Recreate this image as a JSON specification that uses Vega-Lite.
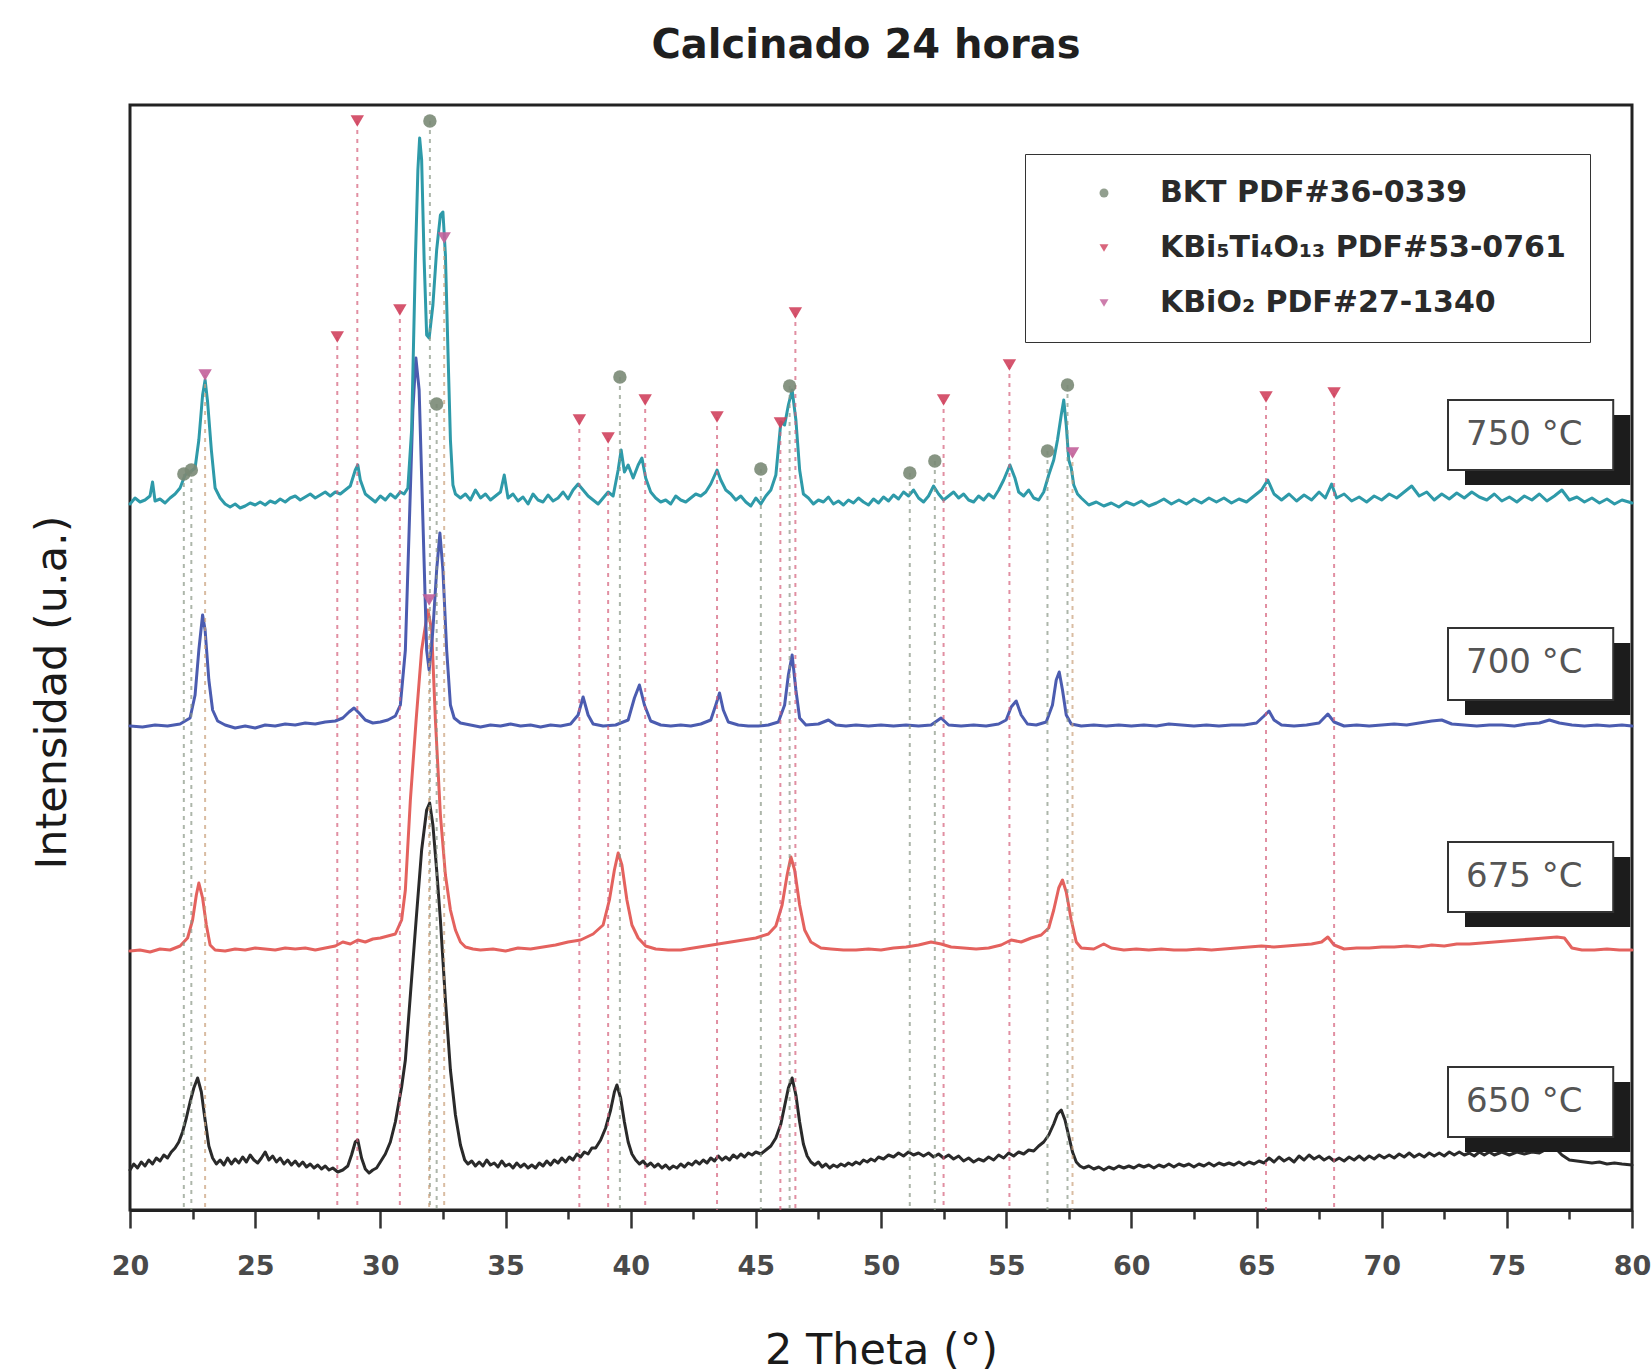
{
  "$schema": "https://vega.github.io/schema/vega-lite/v6.json",
  "width": 1502,
  "height": 1105,
  "autosize": {"type": "none"},
  "padding": {"left": 130, "top": 105, "right": 19, "bottom": 162},
  "background": "white",
  "title": {
    "text": "Calcinado 24 horas",
    "font": "DejaVu Sans",
    "fontSize": 40,
    "fontWeight": "bold",
    "color": "#1f1f1f",
    "anchor": "middle",
    "baseline": "alphabetic",
    "offset": 7,
    "dx": -15
  },
  "config": {
    "font": "DejaVu Sans",
    "view": {"stroke": "#222222", "strokeWidth": 3}
  },
  "datasets": {
    "patrones": [
      {"muestra":"650 °C","theta":20.0,"int":40},{"muestra":"650 °C","theta":20.15,"int":46},{"muestra":"650 °C","theta":20.3,"int":42},{"muestra":"650 °C","theta":20.45,"int":48},{"muestra":"650 °C","theta":20.6,"int":44},{"muestra":"650 °C","theta":20.75,"int":50},{"muestra":"650 °C","theta":20.9,"int":46},{"muestra":"650 °C","theta":21.05,"int":52},{"muestra":"650 °C","theta":21.2,"int":49},{"muestra":"650 °C","theta":21.35,"int":55},{"muestra":"650 °C","theta":21.5,"int":52},{"muestra":"650 °C","theta":21.65,"int":58},{"muestra":"650 °C","theta":21.8,"int":62},{"muestra":"650 °C","theta":21.95,"int":68},{"muestra":"650 °C","theta":22.1,"int":78},{"muestra":"650 °C","theta":22.25,"int":92},{"muestra":"650 °C","theta":22.4,"int":108},{"muestra":"650 °C","theta":22.55,"int":122},{"muestra":"650 °C","theta":22.7,"int":132},{"muestra":"650 °C","theta":22.85,"int":118},{"muestra":"650 °C","theta":23.0,"int":90},{"muestra":"650 °C","theta":23.15,"int":64},{"muestra":"650 °C","theta":23.3,"int":52},{"muestra":"650 °C","theta":23.45,"int":46},{"muestra":"650 °C","theta":23.6,"int":50},{"muestra":"650 °C","theta":23.75,"int":45},{"muestra":"650 °C","theta":23.9,"int":52},{"muestra":"650 °C","theta":24.05,"int":46},{"muestra":"650 °C","theta":24.2,"int":51},{"muestra":"650 °C","theta":24.35,"int":47},{"muestra":"650 °C","theta":24.5,"int":53},{"muestra":"650 °C","theta":24.65,"int":48},{"muestra":"650 °C","theta":24.8,"int":55},{"muestra":"650 °C","theta":24.95,"int":50},{"muestra":"650 °C","theta":25.1,"int":47},{"muestra":"650 °C","theta":25.25,"int":52},{"muestra":"650 °C","theta":25.4,"int":58},{"muestra":"650 °C","theta":25.55,"int":50},{"muestra":"650 °C","theta":25.7,"int":54},{"muestra":"650 °C","theta":25.85,"int":48},{"muestra":"650 °C","theta":26.0,"int":52},{"muestra":"650 °C","theta":26.15,"int":46},{"muestra":"650 °C","theta":26.3,"int":50},{"muestra":"650 °C","theta":26.45,"int":45},{"muestra":"650 °C","theta":26.6,"int":49},{"muestra":"650 °C","theta":26.75,"int":44},{"muestra":"650 °C","theta":26.9,"int":48},{"muestra":"650 °C","theta":27.05,"int":43},{"muestra":"650 °C","theta":27.2,"int":46},{"muestra":"650 °C","theta":27.35,"int":42},{"muestra":"650 °C","theta":27.5,"int":45},{"muestra":"650 °C","theta":27.65,"int":41},{"muestra":"650 °C","theta":27.8,"int":44},{"muestra":"650 °C","theta":27.95,"int":40},{"muestra":"650 °C","theta":28.1,"int":42},{"muestra":"650 °C","theta":28.3,"int":38},{"muestra":"650 °C","theta":28.5,"int":40},{"muestra":"650 °C","theta":28.7,"int":44},{"muestra":"650 °C","theta":28.85,"int":55},{"muestra":"650 °C","theta":29.0,"int":68},{"muestra":"650 °C","theta":29.1,"int":70},{"muestra":"650 °C","theta":29.25,"int":52},{"muestra":"650 °C","theta":29.4,"int":41},{"muestra":"650 °C","theta":29.55,"int":37},{"muestra":"650 °C","theta":29.7,"int":40},{"muestra":"650 °C","theta":29.85,"int":42},{"muestra":"650 °C","theta":30.0,"int":48},{"muestra":"650 °C","theta":30.2,"int":56},{"muestra":"650 °C","theta":30.4,"int":68},{"muestra":"650 °C","theta":30.6,"int":88},{"muestra":"650 °C","theta":30.85,"int":123},{"muestra":"650 °C","theta":31.0,"int":150},{"muestra":"650 °C","theta":31.2,"int":215},{"muestra":"650 °C","theta":31.43,"int":290},{"muestra":"650 °C","theta":31.65,"int":360},{"muestra":"650 °C","theta":31.85,"int":400},{"muestra":"650 °C","theta":31.97,"int":407},{"muestra":"650 °C","theta":32.1,"int":385},{"muestra":"650 °C","theta":32.25,"int":340},{"muestra":"650 °C","theta":32.4,"int":290},{"muestra":"650 °C","theta":32.6,"int":210},{"muestra":"650 °C","theta":32.8,"int":140},{"muestra":"650 °C","theta":33.0,"int":95},{"muestra":"650 °C","theta":33.2,"int":65},{"muestra":"650 °C","theta":33.37,"int":50},{"muestra":"650 °C","theta":33.5,"int":46},{"muestra":"650 °C","theta":33.65,"int":49},{"muestra":"650 °C","theta":33.8,"int":44},{"muestra":"650 °C","theta":33.95,"int":48},{"muestra":"650 °C","theta":34.1,"int":44},{"muestra":"650 °C","theta":34.25,"int":50},{"muestra":"650 °C","theta":34.4,"int":45},{"muestra":"650 °C","theta":34.55,"int":47},{"muestra":"650 °C","theta":34.7,"int":43},{"muestra":"650 °C","theta":34.85,"int":49},{"muestra":"650 °C","theta":35.0,"int":44},{"muestra":"650 °C","theta":35.15,"int":46},{"muestra":"650 °C","theta":35.3,"int":42},{"muestra":"650 °C","theta":35.45,"int":47},{"muestra":"650 °C","theta":35.6,"int":43},{"muestra":"650 °C","theta":35.75,"int":46},{"muestra":"650 °C","theta":35.9,"int":42},{"muestra":"650 °C","theta":36.05,"int":45},{"muestra":"650 °C","theta":36.2,"int":42},{"muestra":"650 °C","theta":36.35,"int":47},{"muestra":"650 °C","theta":36.5,"int":44},{"muestra":"650 °C","theta":36.65,"int":49},{"muestra":"650 °C","theta":36.8,"int":45},{"muestra":"650 °C","theta":36.95,"int":50},{"muestra":"650 °C","theta":37.1,"int":47},{"muestra":"650 °C","theta":37.25,"int":52},{"muestra":"650 °C","theta":37.4,"int":48},{"muestra":"650 °C","theta":37.55,"int":53},{"muestra":"650 °C","theta":37.7,"int":50},{"muestra":"650 °C","theta":37.85,"int":56},{"muestra":"650 °C","theta":38.0,"int":53},{"muestra":"650 °C","theta":38.15,"int":58},{"muestra":"650 °C","theta":38.3,"int":56},{"muestra":"650 °C","theta":38.45,"int":62},{"muestra":"650 °C","theta":38.6,"int":62},{"muestra":"650 °C","theta":38.8,"int":70},{"muestra":"650 °C","theta":39.0,"int":82},{"muestra":"650 °C","theta":39.2,"int":100},{"muestra":"650 °C","theta":39.35,"int":118},{"muestra":"650 °C","theta":39.45,"int":125},{"muestra":"650 °C","theta":39.6,"int":112},{"muestra":"650 °C","theta":39.75,"int":88},{"muestra":"650 °C","theta":39.9,"int":68},{"muestra":"650 °C","theta":40.05,"int":56},{"muestra":"650 °C","theta":40.2,"int":50},{"muestra":"650 °C","theta":40.35,"int":46},{"muestra":"650 °C","theta":40.5,"int":49},{"muestra":"650 °C","theta":40.65,"int":44},{"muestra":"650 °C","theta":40.8,"int":47},{"muestra":"650 °C","theta":40.95,"int":43},{"muestra":"650 °C","theta":41.1,"int":46},{"muestra":"650 °C","theta":41.25,"int":42},{"muestra":"650 °C","theta":41.4,"int":45},{"muestra":"650 °C","theta":41.55,"int":41},{"muestra":"650 °C","theta":41.7,"int":44},{"muestra":"650 °C","theta":41.85,"int":42},{"muestra":"650 °C","theta":42.0,"int":46},{"muestra":"650 °C","theta":42.15,"int":43},{"muestra":"650 °C","theta":42.3,"int":47},{"muestra":"650 °C","theta":42.45,"int":45},{"muestra":"650 °C","theta":42.6,"int":49},{"muestra":"650 °C","theta":42.75,"int":46},{"muestra":"650 °C","theta":42.9,"int":50},{"muestra":"650 °C","theta":43.05,"int":47},{"muestra":"650 °C","theta":43.2,"int":52},{"muestra":"650 °C","theta":43.35,"int":49},{"muestra":"650 °C","theta":43.5,"int":54},{"muestra":"650 °C","theta":43.65,"int":50},{"muestra":"650 °C","theta":43.8,"int":53},{"muestra":"650 °C","theta":43.95,"int":50},{"muestra":"650 °C","theta":44.1,"int":55},{"muestra":"650 °C","theta":44.25,"int":52},{"muestra":"650 °C","theta":44.4,"int":56},{"muestra":"650 °C","theta":44.55,"int":53},{"muestra":"650 °C","theta":44.7,"int":57},{"muestra":"650 °C","theta":44.85,"int":55},{"muestra":"650 °C","theta":45.0,"int":58},{"muestra":"650 °C","theta":45.2,"int":56},{"muestra":"650 °C","theta":45.4,"int":60},{"muestra":"650 °C","theta":45.6,"int":64},{"muestra":"650 °C","theta":45.8,"int":72},{"muestra":"650 °C","theta":46.0,"int":86},{"muestra":"650 °C","theta":46.15,"int":104},{"muestra":"650 °C","theta":46.3,"int":122},{"muestra":"650 °C","theta":46.45,"int":132},{"muestra":"650 °C","theta":46.6,"int":115},{"muestra":"650 °C","theta":46.75,"int":88},{"muestra":"650 °C","theta":46.9,"int":66},{"muestra":"650 °C","theta":47.05,"int":54},{"muestra":"650 °C","theta":47.2,"int":48},{"muestra":"650 °C","theta":47.35,"int":45},{"muestra":"650 °C","theta":47.5,"int":48},{"muestra":"650 °C","theta":47.65,"int":43},{"muestra":"650 °C","theta":47.8,"int":46},{"muestra":"650 °C","theta":47.95,"int":42},{"muestra":"650 °C","theta":48.1,"int":45},{"muestra":"650 °C","theta":48.25,"int":43},{"muestra":"650 °C","theta":48.4,"int":46},{"muestra":"650 °C","theta":48.55,"int":44},{"muestra":"650 °C","theta":48.7,"int":47},{"muestra":"650 °C","theta":48.85,"int":45},{"muestra":"650 °C","theta":49.0,"int":48},{"muestra":"650 °C","theta":49.15,"int":46},{"muestra":"650 °C","theta":49.3,"int":50},{"muestra":"650 °C","theta":49.45,"int":48},{"muestra":"650 °C","theta":49.6,"int":51},{"muestra":"650 °C","theta":49.75,"int":49},{"muestra":"650 °C","theta":49.9,"int":53},{"muestra":"650 °C","theta":50.1,"int":51},{"muestra":"650 °C","theta":50.3,"int":55},{"muestra":"650 °C","theta":50.5,"int":53},{"muestra":"650 °C","theta":50.7,"int":57},{"muestra":"650 °C","theta":50.9,"int":54},{"muestra":"650 °C","theta":51.1,"int":58},{"muestra":"650 °C","theta":51.3,"int":55},{"muestra":"650 °C","theta":51.5,"int":57},{"muestra":"650 °C","theta":51.7,"int":54},{"muestra":"650 °C","theta":51.9,"int":57},{"muestra":"650 °C","theta":52.1,"int":53},{"muestra":"650 °C","theta":52.3,"int":56},{"muestra":"650 °C","theta":52.5,"int":52},{"muestra":"650 °C","theta":52.7,"int":55},{"muestra":"650 °C","theta":52.9,"int":51},{"muestra":"650 °C","theta":53.1,"int":54},{"muestra":"650 °C","theta":53.3,"int":49},{"muestra":"650 °C","theta":53.5,"int":52},{"muestra":"650 °C","theta":53.7,"int":48},{"muestra":"650 °C","theta":53.9,"int":51},{"muestra":"650 °C","theta":54.1,"int":49},{"muestra":"650 °C","theta":54.3,"int":53},{"muestra":"650 °C","theta":54.5,"int":50},{"muestra":"650 °C","theta":54.7,"int":55},{"muestra":"650 °C","theta":54.9,"int":52},{"muestra":"650 °C","theta":55.1,"int":57},{"muestra":"650 °C","theta":55.3,"int":54},{"muestra":"650 °C","theta":55.5,"int":58},{"muestra":"650 °C","theta":55.7,"int":56},{"muestra":"650 °C","theta":55.9,"int":60},{"muestra":"650 °C","theta":56.1,"int":59},{"muestra":"650 °C","theta":56.3,"int":64},{"muestra":"650 °C","theta":56.5,"int":68},{"muestra":"650 °C","theta":56.7,"int":75},{"muestra":"650 °C","theta":56.9,"int":86},{"muestra":"650 °C","theta":57.05,"int":96},{"muestra":"650 °C","theta":57.2,"int":100},{"muestra":"650 °C","theta":57.35,"int":90},{"muestra":"650 °C","theta":57.5,"int":74},{"muestra":"650 °C","theta":57.65,"int":58},{"muestra":"650 °C","theta":57.8,"int":48},{"muestra":"650 °C","theta":57.95,"int":44},{"muestra":"650 °C","theta":58.1,"int":42},{"muestra":"650 °C","theta":58.3,"int":44},{"muestra":"650 °C","theta":58.5,"int":41},{"muestra":"650 °C","theta":58.7,"int":43},{"muestra":"650 °C","theta":58.9,"int":40},{"muestra":"650 °C","theta":59.1,"int":43},{"muestra":"650 °C","theta":59.3,"int":41},{"muestra":"650 °C","theta":59.5,"int":44},{"muestra":"650 °C","theta":59.7,"int":42},{"muestra":"650 °C","theta":59.9,"int":44},{"muestra":"650 °C","theta":60.1,"int":42},{"muestra":"650 °C","theta":60.3,"int":45},{"muestra":"650 °C","theta":60.5,"int":43},{"muestra":"650 °C","theta":60.7,"int":45},{"muestra":"650 °C","theta":60.9,"int":42},{"muestra":"650 °C","theta":61.1,"int":45},{"muestra":"650 °C","theta":61.3,"int":43},{"muestra":"650 °C","theta":61.5,"int":46},{"muestra":"650 °C","theta":61.7,"int":43},{"muestra":"650 °C","theta":61.9,"int":46},{"muestra":"650 °C","theta":62.1,"int":44},{"muestra":"650 °C","theta":62.3,"int":46},{"muestra":"650 °C","theta":62.5,"int":43},{"muestra":"650 °C","theta":62.7,"int":46},{"muestra":"650 °C","theta":62.9,"int":44},{"muestra":"650 °C","theta":63.1,"int":47},{"muestra":"650 °C","theta":63.3,"int":44},{"muestra":"650 °C","theta":63.5,"int":47},{"muestra":"650 °C","theta":63.7,"int":45},{"muestra":"650 °C","theta":63.9,"int":47},{"muestra":"650 °C","theta":64.1,"int":45},{"muestra":"650 °C","theta":64.3,"int":48},{"muestra":"650 °C","theta":64.5,"int":45},{"muestra":"650 °C","theta":64.7,"int":48},{"muestra":"650 °C","theta":64.9,"int":46},{"muestra":"650 °C","theta":65.1,"int":49},{"muestra":"650 °C","theta":65.3,"int":47},{"muestra":"650 °C","theta":65.5,"int":52},{"muestra":"650 °C","theta":65.7,"int":48},{"muestra":"650 °C","theta":65.9,"int":53},{"muestra":"650 °C","theta":66.1,"int":49},{"muestra":"650 °C","theta":66.3,"int":52},{"muestra":"650 °C","theta":66.5,"int":48},{"muestra":"650 °C","theta":66.7,"int":54},{"muestra":"650 °C","theta":66.9,"int":50},{"muestra":"650 °C","theta":67.1,"int":55},{"muestra":"650 °C","theta":67.3,"int":51},{"muestra":"650 °C","theta":67.5,"int":54},{"muestra":"650 °C","theta":67.7,"int":50},{"muestra":"650 °C","theta":67.9,"int":53},{"muestra":"650 °C","theta":68.1,"int":49},{"muestra":"650 °C","theta":68.3,"int":52},{"muestra":"650 °C","theta":68.5,"int":49},{"muestra":"650 °C","theta":68.7,"int":53},{"muestra":"650 °C","theta":68.9,"int":50},{"muestra":"650 °C","theta":69.1,"int":54},{"muestra":"650 °C","theta":69.3,"int":50},{"muestra":"650 °C","theta":69.5,"int":54},{"muestra":"650 °C","theta":69.7,"int":51},{"muestra":"650 °C","theta":69.9,"int":55},{"muestra":"650 °C","theta":70.1,"int":52},{"muestra":"650 °C","theta":70.3,"int":55},{"muestra":"650 °C","theta":70.5,"int":52},{"muestra":"650 °C","theta":70.7,"int":56},{"muestra":"650 °C","theta":70.9,"int":53},{"muestra":"650 °C","theta":71.1,"int":57},{"muestra":"650 °C","theta":71.3,"int":53},{"muestra":"650 °C","theta":71.5,"int":56},{"muestra":"650 °C","theta":71.7,"int":53},{"muestra":"650 °C","theta":71.9,"int":57},{"muestra":"650 °C","theta":72.1,"int":54},{"muestra":"650 °C","theta":72.3,"int":57},{"muestra":"650 °C","theta":72.5,"int":54},{"muestra":"650 °C","theta":72.7,"int":58},{"muestra":"650 °C","theta":72.9,"int":55},{"muestra":"650 °C","theta":73.1,"int":58},{"muestra":"650 °C","theta":73.3,"int":55},{"muestra":"650 °C","theta":73.5,"int":57},{"muestra":"650 °C","theta":73.7,"int":54},{"muestra":"650 °C","theta":73.9,"int":58},{"muestra":"650 °C","theta":74.1,"int":55},{"muestra":"650 °C","theta":74.3,"int":58},{"muestra":"650 °C","theta":74.5,"int":55},{"muestra":"650 °C","theta":74.8,"int":58},{"muestra":"650 °C","theta":75.1,"int":55},{"muestra":"650 °C","theta":75.4,"int":58},{"muestra":"650 °C","theta":75.7,"int":56},{"muestra":"650 °C","theta":76.0,"int":58},{"muestra":"650 °C","theta":76.3,"int":57},{"muestra":"650 °C","theta":76.6,"int":61},{"muestra":"650 °C","theta":76.9,"int":63},{"muestra":"650 °C","theta":77.2,"int":55},{"muestra":"650 °C","theta":77.5,"int":50},{"muestra":"650 °C","theta":77.8,"int":49},{"muestra":"650 °C","theta":78.1,"int":48},{"muestra":"650 °C","theta":78.4,"int":47},{"muestra":"650 °C","theta":78.7,"int":48},{"muestra":"650 °C","theta":79.0,"int":46},{"muestra":"650 °C","theta":79.3,"int":47},{"muestra":"650 °C","theta":79.6,"int":46},{"muestra":"650 °C","theta":80.0,"int":45},
      {"muestra":"675 °C","theta":20.0,"int":259},{"muestra":"675 °C","theta":20.4,"int":260},{"muestra":"675 °C","theta":20.8,"int":258},{"muestra":"675 °C","theta":21.2,"int":261},{"muestra":"675 °C","theta":21.6,"int":260},{"muestra":"675 °C","theta":22.0,"int":264},{"muestra":"675 °C","theta":22.3,"int":272},{"muestra":"675 °C","theta":22.5,"int":290},{"muestra":"675 °C","theta":22.65,"int":315},{"muestra":"675 °C","theta":22.75,"int":327},{"muestra":"675 °C","theta":22.9,"int":312},{"muestra":"675 °C","theta":23.05,"int":285},{"muestra":"675 °C","theta":23.2,"int":265},{"muestra":"675 °C","theta":23.4,"int":260},{"muestra":"675 °C","theta":23.8,"int":259},{"muestra":"675 °C","theta":24.2,"int":261},{"muestra":"675 °C","theta":24.6,"int":260},{"muestra":"675 °C","theta":25.0,"int":262},{"muestra":"675 °C","theta":25.4,"int":261},{"muestra":"675 °C","theta":25.8,"int":260},{"muestra":"675 °C","theta":26.2,"int":262},{"muestra":"675 °C","theta":26.6,"int":261},{"muestra":"675 °C","theta":27.0,"int":262},{"muestra":"675 °C","theta":27.4,"int":260},{"muestra":"675 °C","theta":27.8,"int":262},{"muestra":"675 °C","theta":28.2,"int":264},{"muestra":"675 °C","theta":28.5,"int":268},{"muestra":"675 °C","theta":28.8,"int":266},{"muestra":"675 °C","theta":29.1,"int":270},{"muestra":"675 °C","theta":29.4,"int":268},{"muestra":"675 °C","theta":29.7,"int":271},{"muestra":"675 °C","theta":30.0,"int":272},{"muestra":"675 °C","theta":30.3,"int":274},{"muestra":"675 °C","theta":30.6,"int":276},{"muestra":"675 °C","theta":30.85,"int":290},{"muestra":"675 °C","theta":31.0,"int":320},{"muestra":"675 °C","theta":31.2,"int":410},{"muestra":"675 °C","theta":31.43,"int":490},{"muestra":"675 °C","theta":31.65,"int":560},{"muestra":"675 °C","theta":31.9,"int":600},{"muestra":"675 °C","theta":32.05,"int":580},{"muestra":"675 °C","theta":32.2,"int":490},{"muestra":"675 °C","theta":32.4,"int":395},{"muestra":"675 °C","theta":32.6,"int":335},{"muestra":"675 °C","theta":32.8,"int":300},{"muestra":"675 °C","theta":33.0,"int":280},{"muestra":"675 °C","theta":33.2,"int":268},{"muestra":"675 °C","theta":33.4,"int":263},{"muestra":"675 °C","theta":33.7,"int":261},{"muestra":"675 °C","theta":34.0,"int":260},{"muestra":"675 °C","theta":34.5,"int":261},{"muestra":"675 °C","theta":35.0,"int":259},{"muestra":"675 °C","theta":35.5,"int":262},{"muestra":"675 °C","theta":36.0,"int":261},{"muestra":"675 °C","theta":36.5,"int":263},{"muestra":"675 °C","theta":37.0,"int":265},{"muestra":"675 °C","theta":37.5,"int":268},{"muestra":"675 °C","theta":38.0,"int":270},{"muestra":"675 °C","theta":38.5,"int":276},{"muestra":"675 °C","theta":38.9,"int":285},{"muestra":"675 °C","theta":39.15,"int":310},{"muestra":"675 °C","theta":39.35,"int":340},{"muestra":"675 °C","theta":39.5,"int":357},{"muestra":"675 °C","theta":39.65,"int":345},{"muestra":"675 °C","theta":39.85,"int":310},{"muestra":"675 °C","theta":40.05,"int":285},{"muestra":"675 °C","theta":40.3,"int":272},{"muestra":"675 °C","theta":40.6,"int":264},{"muestra":"675 °C","theta":41.0,"int":261},{"muestra":"675 °C","theta":41.5,"int":260},{"muestra":"675 °C","theta":42.0,"int":260},{"muestra":"675 °C","theta":42.5,"int":262},{"muestra":"675 °C","theta":43.0,"int":264},{"muestra":"675 °C","theta":43.5,"int":266},{"muestra":"675 °C","theta":44.0,"int":268},{"muestra":"675 °C","theta":44.5,"int":270},{"muestra":"675 °C","theta":45.0,"int":272},{"muestra":"675 °C","theta":45.5,"int":276},{"muestra":"675 °C","theta":45.8,"int":284},{"muestra":"675 °C","theta":46.05,"int":305},{"muestra":"675 °C","theta":46.25,"int":335},{"muestra":"675 °C","theta":46.4,"int":353},{"muestra":"675 °C","theta":46.55,"int":340},{"muestra":"675 °C","theta":46.75,"int":305},{"muestra":"675 °C","theta":46.95,"int":280},{"muestra":"675 °C","theta":47.2,"int":268},{"muestra":"675 °C","theta":47.6,"int":262},{"muestra":"675 °C","theta":48.0,"int":261},{"muestra":"675 °C","theta":48.5,"int":260},{"muestra":"675 °C","theta":49.0,"int":260},{"muestra":"675 °C","theta":49.5,"int":261},{"muestra":"675 °C","theta":50.0,"int":260},{"muestra":"675 °C","theta":50.5,"int":262},{"muestra":"675 °C","theta":51.0,"int":263},{"muestra":"675 °C","theta":51.5,"int":265},{"muestra":"675 °C","theta":52.0,"int":268},{"muestra":"675 °C","theta":52.4,"int":266},{"muestra":"675 °C","theta":52.8,"int":263},{"muestra":"675 °C","theta":53.3,"int":262},{"muestra":"675 °C","theta":53.8,"int":261},{"muestra":"675 °C","theta":54.3,"int":262},{"muestra":"675 °C","theta":54.8,"int":265},{"muestra":"675 °C","theta":55.2,"int":270},{"muestra":"675 °C","theta":55.6,"int":268},{"muestra":"675 °C","theta":56.0,"int":272},{"muestra":"675 °C","theta":56.4,"int":275},{"muestra":"675 °C","theta":56.7,"int":282},{"muestra":"675 °C","theta":56.9,"int":300},{"muestra":"675 °C","theta":57.1,"int":322},{"muestra":"675 °C","theta":57.25,"int":330},{"muestra":"675 °C","theta":57.4,"int":318},{"muestra":"675 °C","theta":57.6,"int":290},{"muestra":"675 °C","theta":57.8,"int":268},{"muestra":"675 °C","theta":58.0,"int":262},{"muestra":"675 °C","theta":58.5,"int":261},{"muestra":"675 °C","theta":58.9,"int":266},{"muestra":"675 °C","theta":59.2,"int":262},{"muestra":"675 °C","theta":59.7,"int":260},{"muestra":"675 °C","theta":60.2,"int":261},{"muestra":"675 °C","theta":60.7,"int":260},{"muestra":"675 °C","theta":61.2,"int":261},{"muestra":"675 °C","theta":61.7,"int":260},{"muestra":"675 °C","theta":62.2,"int":260},{"muestra":"675 °C","theta":62.7,"int":261},{"muestra":"675 °C","theta":63.2,"int":260},{"muestra":"675 °C","theta":63.7,"int":261},{"muestra":"675 °C","theta":64.2,"int":262},{"muestra":"675 °C","theta":64.7,"int":263},{"muestra":"675 °C","theta":65.2,"int":264},{"muestra":"675 °C","theta":65.7,"int":263},{"muestra":"675 °C","theta":66.2,"int":264},{"muestra":"675 °C","theta":66.7,"int":265},{"muestra":"675 °C","theta":67.2,"int":266},{"muestra":"675 °C","theta":67.6,"int":268},{"muestra":"675 °C","theta":67.85,"int":273},{"muestra":"675 °C","theta":68.1,"int":265},{"muestra":"675 °C","theta":68.5,"int":261},{"muestra":"675 °C","theta":69.0,"int":262},{"muestra":"675 °C","theta":69.5,"int":262},{"muestra":"675 °C","theta":70.0,"int":263},{"muestra":"675 °C","theta":70.5,"int":263},{"muestra":"675 °C","theta":71.0,"int":264},{"muestra":"675 °C","theta":71.5,"int":263},{"muestra":"675 °C","theta":72.0,"int":265},{"muestra":"675 °C","theta":72.5,"int":264},{"muestra":"675 °C","theta":73.0,"int":266},{"muestra":"675 °C","theta":73.5,"int":266},{"muestra":"675 °C","theta":74.0,"int":267},{"muestra":"675 °C","theta":74.5,"int":268},{"muestra":"675 °C","theta":75.0,"int":269},{"muestra":"675 °C","theta":75.5,"int":270},{"muestra":"675 °C","theta":76.0,"int":271},{"muestra":"675 °C","theta":76.5,"int":272},{"muestra":"675 °C","theta":77.0,"int":273},{"muestra":"675 °C","theta":77.3,"int":272},{"muestra":"675 °C","theta":77.6,"int":262},{"muestra":"675 °C","theta":78.0,"int":260},{"muestra":"675 °C","theta":78.5,"int":260},{"muestra":"675 °C","theta":79.0,"int":261},{"muestra":"675 °C","theta":79.5,"int":260},{"muestra":"675 °C","theta":80.0,"int":260},
      {"muestra":"700 °C","theta":20.0,"int":484},{"muestra":"700 °C","theta":20.5,"int":483},{"muestra":"700 °C","theta":21.0,"int":485},{"muestra":"700 °C","theta":21.5,"int":484},{"muestra":"700 °C","theta":22.0,"int":486},{"muestra":"700 °C","theta":22.4,"int":492},{"muestra":"700 °C","theta":22.6,"int":515},{"muestra":"700 °C","theta":22.75,"int":560},{"muestra":"700 °C","theta":22.9,"int":595},{"muestra":"700 °C","theta":23.0,"int":580},{"muestra":"700 °C","theta":23.15,"int":530},{"muestra":"700 °C","theta":23.3,"int":500},{"muestra":"700 °C","theta":23.5,"int":489},{"muestra":"700 °C","theta":23.8,"int":485},{"muestra":"700 °C","theta":24.2,"int":482},{"muestra":"700 °C","theta":24.6,"int":484},{"muestra":"700 °C","theta":25.0,"int":482},{"muestra":"700 °C","theta":25.4,"int":485},{"muestra":"700 °C","theta":25.8,"int":484},{"muestra":"700 °C","theta":26.2,"int":486},{"muestra":"700 °C","theta":26.6,"int":485},{"muestra":"700 °C","theta":27.0,"int":487},{"muestra":"700 °C","theta":27.4,"int":486},{"muestra":"700 °C","theta":27.8,"int":488},{"muestra":"700 °C","theta":28.2,"int":489},{"muestra":"700 °C","theta":28.5,"int":492},{"muestra":"700 °C","theta":28.75,"int":498},{"muestra":"700 °C","theta":28.95,"int":502},{"muestra":"700 °C","theta":29.15,"int":497},{"muestra":"700 °C","theta":29.4,"int":490},{"muestra":"700 °C","theta":29.7,"int":487},{"muestra":"700 °C","theta":30.0,"int":488},{"muestra":"700 °C","theta":30.3,"int":490},{"muestra":"700 °C","theta":30.6,"int":494},{"muestra":"700 °C","theta":30.8,"int":505},{"muestra":"700 °C","theta":31.0,"int":560},{"muestra":"700 °C","theta":31.15,"int":680},{"muestra":"700 °C","theta":31.3,"int":800},{"muestra":"700 °C","theta":31.42,"int":852},{"muestra":"700 °C","theta":31.55,"int":820},{"muestra":"700 °C","theta":31.7,"int":690},{"muestra":"700 °C","theta":31.85,"int":560},{"muestra":"700 °C","theta":31.95,"int":540},{"muestra":"700 °C","theta":32.1,"int":580},{"muestra":"700 °C","theta":32.25,"int":640},{"muestra":"700 °C","theta":32.38,"int":677},{"muestra":"700 °C","theta":32.5,"int":640},{"muestra":"700 °C","theta":32.65,"int":560},{"muestra":"700 °C","theta":32.8,"int":505},{"muestra":"700 °C","theta":32.95,"int":492},{"muestra":"700 °C","theta":33.2,"int":487},{"muestra":"700 °C","theta":33.6,"int":485},{"muestra":"700 °C","theta":34.0,"int":483},{"muestra":"700 °C","theta":34.4,"int":485},{"muestra":"700 °C","theta":34.8,"int":484},{"muestra":"700 °C","theta":35.2,"int":486},{"muestra":"700 °C","theta":35.6,"int":484},{"muestra":"700 °C","theta":36.0,"int":485},{"muestra":"700 °C","theta":36.4,"int":483},{"muestra":"700 °C","theta":36.8,"int":485},{"muestra":"700 °C","theta":37.2,"int":484},{"muestra":"700 °C","theta":37.6,"int":486},{"muestra":"700 °C","theta":37.9,"int":495},{"muestra":"700 °C","theta":38.1,"int":513},{"muestra":"700 °C","theta":38.3,"int":495},{"muestra":"700 °C","theta":38.5,"int":486},{"muestra":"700 °C","theta":38.9,"int":484},{"muestra":"700 °C","theta":39.4,"int":485},{"muestra":"700 °C","theta":39.9,"int":490},{"muestra":"700 °C","theta":40.15,"int":512},{"muestra":"700 °C","theta":40.35,"int":525},{"muestra":"700 °C","theta":40.55,"int":505},{"muestra":"700 °C","theta":40.8,"int":489},{"muestra":"700 °C","theta":41.2,"int":485},{"muestra":"700 °C","theta":41.6,"int":484},{"muestra":"700 °C","theta":42.0,"int":485},{"muestra":"700 °C","theta":42.4,"int":484},{"muestra":"700 °C","theta":42.8,"int":486},{"muestra":"700 °C","theta":43.2,"int":490},{"muestra":"700 °C","theta":43.4,"int":505},{"muestra":"700 °C","theta":43.55,"int":517},{"muestra":"700 °C","theta":43.7,"int":500},{"muestra":"700 °C","theta":43.9,"int":488},{"muestra":"700 °C","theta":44.3,"int":485},{"muestra":"700 °C","theta":44.7,"int":484},{"muestra":"700 °C","theta":45.1,"int":484},{"muestra":"700 °C","theta":45.5,"int":485},{"muestra":"700 °C","theta":45.9,"int":488},{"muestra":"700 °C","theta":46.15,"int":505},{"muestra":"700 °C","theta":46.3,"int":535},{"muestra":"700 °C","theta":46.45,"int":555},{"muestra":"700 °C","theta":46.6,"int":520},{"muestra":"700 °C","theta":46.75,"int":492},{"muestra":"700 °C","theta":47.0,"int":485},{"muestra":"700 °C","theta":47.5,"int":486},{"muestra":"700 °C","theta":47.9,"int":490},{"muestra":"700 °C","theta":48.2,"int":485},{"muestra":"700 °C","theta":48.6,"int":484},{"muestra":"700 °C","theta":49.0,"int":485},{"muestra":"700 °C","theta":49.5,"int":484},{"muestra":"700 °C","theta":50.0,"int":485},{"muestra":"700 °C","theta":50.5,"int":484},{"muestra":"700 °C","theta":51.0,"int":485},{"muestra":"700 °C","theta":51.5,"int":484},{"muestra":"700 °C","theta":52.0,"int":485},{"muestra":"700 °C","theta":52.4,"int":492},{"muestra":"700 °C","theta":52.7,"int":485},{"muestra":"700 °C","theta":53.2,"int":484},{"muestra":"700 °C","theta":53.7,"int":485},{"muestra":"700 °C","theta":54.2,"int":484},{"muestra":"700 °C","theta":54.7,"int":486},{"muestra":"700 °C","theta":55.0,"int":490},{"muestra":"700 °C","theta":55.2,"int":503},{"muestra":"700 °C","theta":55.4,"int":509},{"muestra":"700 °C","theta":55.6,"int":495},{"muestra":"700 °C","theta":55.85,"int":486},{"muestra":"700 °C","theta":56.2,"int":485},{"muestra":"700 °C","theta":56.6,"int":488},{"muestra":"700 °C","theta":56.85,"int":505},{"muestra":"700 °C","theta":57.0,"int":530},{"muestra":"700 °C","theta":57.12,"int":538},{"muestra":"700 °C","theta":57.25,"int":520},{"muestra":"700 °C","theta":57.4,"int":495},{"muestra":"700 °C","theta":57.6,"int":486},{"muestra":"700 °C","theta":58.0,"int":484},{"muestra":"700 °C","theta":58.5,"int":485},{"muestra":"700 °C","theta":59.0,"int":484},{"muestra":"700 °C","theta":59.5,"int":485},{"muestra":"700 °C","theta":60.0,"int":484},{"muestra":"700 °C","theta":60.5,"int":485},{"muestra":"700 °C","theta":61.0,"int":484},{"muestra":"700 °C","theta":61.5,"int":486},{"muestra":"700 °C","theta":62.0,"int":485},{"muestra":"700 °C","theta":62.5,"int":484},{"muestra":"700 °C","theta":63.0,"int":485},{"muestra":"700 °C","theta":63.5,"int":484},{"muestra":"700 °C","theta":64.0,"int":485},{"muestra":"700 °C","theta":64.5,"int":485},{"muestra":"700 °C","theta":65.0,"int":487},{"muestra":"700 °C","theta":65.3,"int":494},{"muestra":"700 °C","theta":65.5,"int":499},{"muestra":"700 °C","theta":65.7,"int":490},{"muestra":"700 °C","theta":66.0,"int":485},{"muestra":"700 °C","theta":66.5,"int":484},{"muestra":"700 °C","theta":67.0,"int":485},{"muestra":"700 °C","theta":67.5,"int":487},{"muestra":"700 °C","theta":67.85,"int":496},{"muestra":"700 °C","theta":68.1,"int":488},{"muestra":"700 °C","theta":68.5,"int":484},{"muestra":"700 °C","theta":69.0,"int":485},{"muestra":"700 °C","theta":69.5,"int":484},{"muestra":"700 °C","theta":70.0,"int":485},{"muestra":"700 °C","theta":70.5,"int":486},{"muestra":"700 °C","theta":71.0,"int":485},{"muestra":"700 °C","theta":71.5,"int":487},{"muestra":"700 °C","theta":72.0,"int":489},{"muestra":"700 °C","theta":72.4,"int":490},{"muestra":"700 °C","theta":72.8,"int":486},{"muestra":"700 °C","theta":73.3,"int":485},{"muestra":"700 °C","theta":73.8,"int":484},{"muestra":"700 °C","theta":74.3,"int":485},{"muestra":"700 °C","theta":74.8,"int":485},{"muestra":"700 °C","theta":75.3,"int":484},{"muestra":"700 °C","theta":75.8,"int":486},{"muestra":"700 °C","theta":76.3,"int":487},{"muestra":"700 °C","theta":76.7,"int":490},{"muestra":"700 °C","theta":77.1,"int":487},{"muestra":"700 °C","theta":77.6,"int":485},{"muestra":"700 °C","theta":78.1,"int":484},{"muestra":"700 °C","theta":78.6,"int":485},{"muestra":"700 °C","theta":79.1,"int":484},{"muestra":"700 °C","theta":79.6,"int":485},{"muestra":"700 °C","theta":80.0,"int":484},
      {"muestra":"750 °C","theta":20.0,"int":706},{"muestra":"750 °C","theta":20.2,"int":712},{"muestra":"750 °C","theta":20.4,"int":708},{"muestra":"750 °C","theta":20.6,"int":710},{"muestra":"750 °C","theta":20.8,"int":714},{"muestra":"750 °C","theta":20.9,"int":728},{"muestra":"750 °C","theta":21.0,"int":709},{"muestra":"750 °C","theta":21.2,"int":711},{"muestra":"750 °C","theta":21.4,"int":707},{"muestra":"750 °C","theta":21.6,"int":712},{"muestra":"750 °C","theta":21.8,"int":716},{"muestra":"750 °C","theta":22.0,"int":722},{"muestra":"750 °C","theta":22.2,"int":735},{"muestra":"750 °C","theta":22.4,"int":738},{"muestra":"750 °C","theta":22.6,"int":742},{"muestra":"750 °C","theta":22.75,"int":770},{"muestra":"750 °C","theta":22.9,"int":815},{"muestra":"750 °C","theta":23.0,"int":830},{"muestra":"750 °C","theta":23.1,"int":808},{"muestra":"750 °C","theta":23.25,"int":760},{"muestra":"750 °C","theta":23.4,"int":722},{"muestra":"750 °C","theta":23.6,"int":712},{"muestra":"750 °C","theta":23.8,"int":706},{"muestra":"750 °C","theta":24.0,"int":703},{"muestra":"750 °C","theta":24.2,"int":706},{"muestra":"750 °C","theta":24.4,"int":702},{"muestra":"750 °C","theta":24.6,"int":704},{"muestra":"750 °C","theta":24.8,"int":707},{"muestra":"750 °C","theta":25.0,"int":705},{"muestra":"750 °C","theta":25.2,"int":708},{"muestra":"750 °C","theta":25.4,"int":705},{"muestra":"750 °C","theta":25.6,"int":709},{"muestra":"750 °C","theta":25.8,"int":707},{"muestra":"750 °C","theta":26.0,"int":711},{"muestra":"750 °C","theta":26.2,"int":708},{"muestra":"750 °C","theta":26.4,"int":712},{"muestra":"750 °C","theta":26.6,"int":714},{"muestra":"750 °C","theta":26.8,"int":710},{"muestra":"750 °C","theta":27.0,"int":713},{"muestra":"750 °C","theta":27.2,"int":716},{"muestra":"750 °C","theta":27.4,"int":712},{"muestra":"750 °C","theta":27.6,"int":715},{"muestra":"750 °C","theta":27.8,"int":718},{"muestra":"750 °C","theta":28.0,"int":714},{"muestra":"750 °C","theta":28.2,"int":718},{"muestra":"750 °C","theta":28.4,"int":716},{"muestra":"750 °C","theta":28.6,"int":720},{"muestra":"750 °C","theta":28.8,"int":724},{"muestra":"750 °C","theta":29.0,"int":740},{"muestra":"750 °C","theta":29.1,"int":745},{"muestra":"750 °C","theta":29.2,"int":730},{"muestra":"750 °C","theta":29.4,"int":716},{"muestra":"750 °C","theta":29.6,"int":712},{"muestra":"750 °C","theta":29.8,"int":708},{"muestra":"750 °C","theta":30.0,"int":714},{"muestra":"750 °C","theta":30.2,"int":710},{"muestra":"750 °C","theta":30.4,"int":716},{"muestra":"750 °C","theta":30.6,"int":712},{"muestra":"750 °C","theta":30.8,"int":718},{"muestra":"750 °C","theta":30.95,"int":716},{"muestra":"750 °C","theta":31.1,"int":722},{"muestra":"750 °C","theta":31.25,"int":780},{"muestra":"750 °C","theta":31.4,"int":950},{"muestra":"750 °C","theta":31.5,"int":1040},{"muestra":"750 °C","theta":31.57,"int":1072},{"muestra":"750 °C","theta":31.65,"int":1050},{"muestra":"750 °C","theta":31.75,"int":950},{"muestra":"750 °C","theta":31.85,"int":875},{"muestra":"750 °C","theta":31.95,"int":872},{"muestra":"750 °C","theta":32.1,"int":905},{"muestra":"750 °C","theta":32.25,"int":960},{"muestra":"750 °C","theta":32.4,"int":995},{"muestra":"750 °C","theta":32.5,"int":998},{"muestra":"750 °C","theta":32.6,"int":955},{"muestra":"750 °C","theta":32.7,"int":860},{"muestra":"750 °C","theta":32.8,"int":770},{"muestra":"750 °C","theta":32.9,"int":725},{"muestra":"750 °C","theta":33.0,"int":716},{"muestra":"750 °C","theta":33.2,"int":712},{"muestra":"750 °C","theta":33.4,"int":716},{"muestra":"750 °C","theta":33.6,"int":710},{"muestra":"750 °C","theta":33.8,"int":720},{"muestra":"750 °C","theta":34.0,"int":712},{"muestra":"750 °C","theta":34.2,"int":716},{"muestra":"750 °C","theta":34.4,"int":710},{"muestra":"750 °C","theta":34.6,"int":714},{"muestra":"750 °C","theta":34.8,"int":718},{"muestra":"750 °C","theta":34.95,"int":735},{"muestra":"750 °C","theta":35.1,"int":712},{"muestra":"750 °C","theta":35.3,"int":716},{"muestra":"750 °C","theta":35.5,"int":709},{"muestra":"750 °C","theta":35.7,"int":713},{"muestra":"750 °C","theta":35.9,"int":706},{"muestra":"750 °C","theta":36.1,"int":716},{"muestra":"750 °C","theta":36.3,"int":710},{"muestra":"750 °C","theta":36.5,"int":708},{"muestra":"750 °C","theta":36.7,"int":715},{"muestra":"750 °C","theta":36.9,"int":709},{"muestra":"750 °C","theta":37.1,"int":712},{"muestra":"750 °C","theta":37.3,"int":718},{"muestra":"750 °C","theta":37.5,"int":711},{"muestra":"750 °C","theta":37.7,"int":720},{"muestra":"750 °C","theta":37.9,"int":726},{"muestra":"750 °C","theta":38.1,"int":720},{"muestra":"750 °C","theta":38.3,"int":714},{"muestra":"750 °C","theta":38.5,"int":710},{"muestra":"750 °C","theta":38.7,"int":706},{"muestra":"750 °C","theta":38.9,"int":712},{"muestra":"750 °C","theta":39.1,"int":718},{"muestra":"750 °C","theta":39.3,"int":714},{"muestra":"750 °C","theta":39.5,"int":740},{"muestra":"750 °C","theta":39.62,"int":760},{"muestra":"750 °C","theta":39.75,"int":738},{"muestra":"750 °C","theta":39.9,"int":745},{"muestra":"750 °C","theta":40.1,"int":732},{"muestra":"750 °C","theta":40.3,"int":745},{"muestra":"750 °C","theta":40.45,"int":752},{"muestra":"750 °C","theta":40.6,"int":732},{"muestra":"750 °C","theta":40.8,"int":718},{"muestra":"750 °C","theta":41.0,"int":712},{"muestra":"750 °C","theta":41.2,"int":708},{"muestra":"750 °C","theta":41.4,"int":710},{"muestra":"750 °C","theta":41.6,"int":706},{"muestra":"750 °C","theta":41.8,"int":714},{"muestra":"750 °C","theta":42.0,"int":710},{"muestra":"750 °C","theta":42.2,"int":708},{"muestra":"750 °C","theta":42.4,"int":712},{"muestra":"750 °C","theta":42.6,"int":716},{"muestra":"750 °C","theta":42.8,"int":714},{"muestra":"750 °C","theta":43.0,"int":718},{"muestra":"750 °C","theta":43.2,"int":726},{"muestra":"750 °C","theta":43.45,"int":740},{"muestra":"750 °C","theta":43.6,"int":730},{"muestra":"750 °C","theta":43.8,"int":720},{"muestra":"750 °C","theta":44.0,"int":716},{"muestra":"750 °C","theta":44.2,"int":710},{"muestra":"750 °C","theta":44.4,"int":714},{"muestra":"750 °C","theta":44.6,"int":708},{"muestra":"750 °C","theta":44.8,"int":704},{"muestra":"750 °C","theta":45.0,"int":712},{"muestra":"750 °C","theta":45.2,"int":706},{"muestra":"750 °C","theta":45.4,"int":714},{"muestra":"750 °C","theta":45.6,"int":720},{"muestra":"750 °C","theta":45.8,"int":735},{"muestra":"750 °C","theta":46.0,"int":788},{"muestra":"750 °C","theta":46.15,"int":785},{"muestra":"750 °C","theta":46.3,"int":805},{"muestra":"750 °C","theta":46.45,"int":820},{"muestra":"750 °C","theta":46.6,"int":790},{"muestra":"750 °C","theta":46.75,"int":740},{"muestra":"750 °C","theta":46.9,"int":716},{"muestra":"750 °C","theta":47.1,"int":712},{"muestra":"750 °C","theta":47.3,"int":706},{"muestra":"750 °C","theta":47.5,"int":710},{"muestra":"750 °C","theta":47.7,"int":708},{"muestra":"750 °C","theta":47.9,"int":713},{"muestra":"750 °C","theta":48.1,"int":706},{"muestra":"750 °C","theta":48.3,"int":709},{"muestra":"750 °C","theta":48.5,"int":705},{"muestra":"750 °C","theta":48.7,"int":710},{"muestra":"750 °C","theta":48.9,"int":707},{"muestra":"750 °C","theta":49.1,"int":712},{"muestra":"750 °C","theta":49.3,"int":708},{"muestra":"750 °C","theta":49.5,"int":705},{"muestra":"750 °C","theta":49.7,"int":711},{"muestra":"750 °C","theta":49.9,"int":707},{"muestra":"750 °C","theta":50.1,"int":713},{"muestra":"750 °C","theta":50.3,"int":709},{"muestra":"750 °C","theta":50.5,"int":715},{"muestra":"750 °C","theta":50.7,"int":711},{"muestra":"750 °C","theta":50.9,"int":718},{"muestra":"750 °C","theta":51.1,"int":714},{"muestra":"750 °C","theta":51.3,"int":720},{"muestra":"750 °C","theta":51.5,"int":712},{"muestra":"750 °C","theta":51.7,"int":708},{"muestra":"750 °C","theta":51.9,"int":714},{"muestra":"750 °C","theta":52.1,"int":724},{"muestra":"750 °C","theta":52.3,"int":716},{"muestra":"750 °C","theta":52.5,"int":710},{"muestra":"750 °C","theta":52.7,"int":714},{"muestra":"750 °C","theta":52.9,"int":718},{"muestra":"750 °C","theta":53.1,"int":712},{"muestra":"750 °C","theta":53.3,"int":716},{"muestra":"750 °C","theta":53.5,"int":710},{"muestra":"750 °C","theta":53.7,"int":708},{"muestra":"750 °C","theta":53.9,"int":714},{"muestra":"750 °C","theta":54.1,"int":710},{"muestra":"750 °C","theta":54.3,"int":716},{"muestra":"750 °C","theta":54.5,"int":712},{"muestra":"750 °C","theta":54.7,"int":720},{"muestra":"750 °C","theta":54.9,"int":730},{"muestra":"750 °C","theta":55.15,"int":745},{"muestra":"750 °C","theta":55.35,"int":732},{"muestra":"750 °C","theta":55.5,"int":718},{"muestra":"750 °C","theta":55.7,"int":714},{"muestra":"750 °C","theta":55.9,"int":720},{"muestra":"750 °C","theta":56.1,"int":712},{"muestra":"750 °C","theta":56.3,"int":710},{"muestra":"750 °C","theta":56.5,"int":718},{"muestra":"750 °C","theta":56.7,"int":735},{"muestra":"750 °C","theta":56.9,"int":750},{"muestra":"750 °C","theta":57.05,"int":770},{"muestra":"750 °C","theta":57.2,"int":795},{"muestra":"750 °C","theta":57.3,"int":810},{"muestra":"750 °C","theta":57.4,"int":785},{"muestra":"750 °C","theta":57.5,"int":750},{"muestra":"750 °C","theta":57.6,"int":742},{"muestra":"750 °C","theta":57.7,"int":725},{"muestra":"750 °C","theta":57.85,"int":716},{"muestra":"750 °C","theta":58.0,"int":712},{"muestra":"750 °C","theta":58.3,"int":705},{"muestra":"750 °C","theta":58.6,"int":708},{"muestra":"750 °C","theta":58.9,"int":704},{"muestra":"750 °C","theta":59.2,"int":707},{"muestra":"750 °C","theta":59.5,"int":703},{"muestra":"750 °C","theta":59.8,"int":708},{"muestra":"750 °C","theta":60.1,"int":705},{"muestra":"750 °C","theta":60.4,"int":709},{"muestra":"750 °C","theta":60.7,"int":704},{"muestra":"750 °C","theta":61.0,"int":707},{"muestra":"750 °C","theta":61.3,"int":711},{"muestra":"750 °C","theta":61.6,"int":706},{"muestra":"750 °C","theta":61.9,"int":710},{"muestra":"750 °C","theta":62.2,"int":706},{"muestra":"750 °C","theta":62.5,"int":711},{"muestra":"750 °C","theta":62.8,"int":707},{"muestra":"750 °C","theta":63.1,"int":712},{"muestra":"750 °C","theta":63.4,"int":708},{"muestra":"750 °C","theta":63.7,"int":712},{"muestra":"750 °C","theta":64.0,"int":707},{"muestra":"750 °C","theta":64.3,"int":711},{"muestra":"750 °C","theta":64.6,"int":708},{"muestra":"750 °C","theta":64.9,"int":714},{"muestra":"750 °C","theta":65.2,"int":720},{"muestra":"750 °C","theta":65.45,"int":730},{"muestra":"750 °C","theta":65.7,"int":716},{"muestra":"750 °C","theta":66.0,"int":710},{"muestra":"750 °C","theta":66.3,"int":716},{"muestra":"750 °C","theta":66.6,"int":709},{"muestra":"750 °C","theta":66.9,"int":715},{"muestra":"750 °C","theta":67.2,"int":710},{"muestra":"750 °C","theta":67.5,"int":718},{"muestra":"750 °C","theta":67.75,"int":712},{"muestra":"750 °C","theta":68.0,"int":726},{"muestra":"750 °C","theta":68.2,"int":712},{"muestra":"750 °C","theta":68.5,"int":716},{"muestra":"750 °C","theta":68.8,"int":709},{"muestra":"750 °C","theta":69.1,"int":713},{"muestra":"750 °C","theta":69.4,"int":708},{"muestra":"750 °C","theta":69.7,"int":714},{"muestra":"750 °C","theta":70.0,"int":710},{"muestra":"750 °C","theta":70.3,"int":716},{"muestra":"750 °C","theta":70.6,"int":712},{"muestra":"750 °C","theta":70.9,"int":718},{"muestra":"750 °C","theta":71.2,"int":724},{"muestra":"750 °C","theta":71.5,"int":714},{"muestra":"750 °C","theta":71.8,"int":718},{"muestra":"750 °C","theta":72.1,"int":710},{"muestra":"750 °C","theta":72.4,"int":716},{"muestra":"750 °C","theta":72.7,"int":711},{"muestra":"750 °C","theta":73.0,"int":717},{"muestra":"750 °C","theta":73.3,"int":712},{"muestra":"750 °C","theta":73.6,"int":718},{"muestra":"750 °C","theta":73.9,"int":713},{"muestra":"750 °C","theta":74.2,"int":710},{"muestra":"750 °C","theta":74.5,"int":716},{"muestra":"750 °C","theta":74.8,"int":709},{"muestra":"750 °C","theta":75.1,"int":713},{"muestra":"750 °C","theta":75.4,"int":708},{"muestra":"750 °C","theta":75.7,"int":714},{"muestra":"750 °C","theta":76.0,"int":710},{"muestra":"750 °C","theta":76.3,"int":716},{"muestra":"750 °C","theta":76.6,"int":709},{"muestra":"750 °C","theta":76.9,"int":714},{"muestra":"750 °C","theta":77.2,"int":720},{"muestra":"750 °C","theta":77.5,"int":710},{"muestra":"750 °C","theta":77.8,"int":713},{"muestra":"750 °C","theta":78.1,"int":708},{"muestra":"750 °C","theta":78.4,"int":712},{"muestra":"750 °C","theta":78.7,"int":707},{"muestra":"750 °C","theta":79.0,"int":711},{"muestra":"750 °C","theta":79.3,"int":706},{"muestra":"750 °C","theta":79.6,"int":710},{"muestra":"750 °C","theta":80.0,"int":707}
    ],
    "picos": [
      {"fase":"BKT PDF#36-0339","theta":22.15,"alto":736},
      {"fase":"BKT PDF#36-0339","theta":22.45,"alto":740},
      {"fase":"BKT PDF#36-0339","theta":31.98,"alto":1089},
      {"fase":"BKT PDF#36-0339","theta":32.25,"alto":806},
      {"fase":"BKT PDF#36-0339","theta":39.57,"alto":833},
      {"fase":"BKT PDF#36-0339","theta":45.2,"alto":741},
      {"fase":"BKT PDF#36-0339","theta":46.35,"alto":824},
      {"fase":"BKT PDF#36-0339","theta":51.15,"alto":737},
      {"fase":"BKT PDF#36-0339","theta":52.15,"alto":749},
      {"fase":"BKT PDF#36-0339","theta":56.65,"alto":759},
      {"fase":"BKT PDF#36-0339","theta":57.45,"alto":825},
      {"fase":"KBi₅Ti₄O₁₃ PDF#53-0761","theta":28.28,"alto":873},
      {"fase":"KBi₅Ti₄O₁₃ PDF#53-0761","theta":29.08,"alto":1089},
      {"fase":"KBi₅Ti₄O₁₃ PDF#53-0761","theta":30.78,"alto":900},
      {"fase":"KBi₅Ti₄O₁₃ PDF#53-0761","theta":37.95,"alto":790},
      {"fase":"KBi₅Ti₄O₁₃ PDF#53-0761","theta":39.1,"alto":772},
      {"fase":"KBi₅Ti₄O₁₃ PDF#53-0761","theta":40.58,"alto":810},
      {"fase":"KBi₅Ti₄O₁₃ PDF#53-0761","theta":43.45,"alto":793},
      {"fase":"KBi₅Ti₄O₁₃ PDF#53-0761","theta":45.98,"alto":787},
      {"fase":"KBi₅Ti₄O₁₃ PDF#53-0761","theta":46.58,"alto":897},
      {"fase":"KBi₅Ti₄O₁₃ PDF#53-0761","theta":52.5,"alto":810},
      {"fase":"KBi₅Ti₄O₁₃ PDF#53-0761","theta":55.13,"alto":845},
      {"fase":"KBi₅Ti₄O₁₃ PDF#53-0761","theta":65.38,"alto":813},
      {"fase":"KBi₅Ti₄O₁₃ PDF#53-0761","theta":68.1,"alto":817},
      {"fase":"KBiO₂ PDF#27-1340","theta":23.0,"alto":835},
      {"fase":"KBiO₂ PDF#27-1340","theta":31.95,"alto":610},
      {"fase":"KBiO₂ PDF#27-1340","theta":32.55,"alto":972},
      {"fase":"KBiO₂ PDF#27-1340","theta":57.65,"alto":757}
    ],
    "etiquetas": [
      {"muestra":"750 °C","theta_ini":72.65,"theta_fin":79.25,"int_min":740,"int_max":810},
      {"muestra":"700 °C","theta_ini":72.65,"theta_fin":79.25,"int_min":510,"int_max":582},
      {"muestra":"675 °C","theta_ini":72.65,"theta_fin":79.25,"int_min":298,"int_max":368},
      {"muestra":"650 °C","theta_ini":72.65,"theta_fin":79.25,"int_min":73,"int_max":143}
    ]
  },
  "layer": [
    {
      "data": {"name": "patrones"},
      "mark": {"type": "line", "strokeWidth": 3, "strokeJoin": "round", "strokeCap": "round"},
      "encoding": {
        "x": {
          "field": "theta", "type": "quantitative",
          "scale": {"domain": [20, 80], "nice": false, "zero": false},
          "axis": {
            "title": "2 Theta (°)",
            "values": [20, 22.5, 25, 27.5, 30, 32.5, 35, 37.5, 40, 42.5, 45, 47.5, 50, 52.5, 55, 57.5, 60, 62.5, 65, 67.5, 70, 72.5, 75, 77.5, 80],
            "labelExpr": "datum.value % 5 === 0 ? datum.label : ''",
            "labelOverlap": false,
            "labelFlush": false,
            "labelFont": "DejaVu Sans",
            "labelFontSize": 27,
            "labelFontWeight": "bold",
            "labelColor": "#4a4a4a",
            "labelPadding": 25,
            "tickSize": {"condition": {"test": "datum.value % 5 === 0", "value": 18}, "value": 9},
            "tickWidth": 2.5,
            "tickColor": "#333333",
            "domainColor": "#222222",
            "domainWidth": 3,
            "grid": false,
            "titleFont": "DejaVu Sans",
            "titleFontSize": 43,
            "titleFontWeight": "normal",
            "titleColor": "#1a1a1a",
            "titleBaseline": "middle",
            "titleY": 140
          }
        },
        "y": {
          "field": "int", "type": "quantitative",
          "scale": {"domain": [0, 1105], "nice": false, "zero": false},
          "axis": {
            "title": "Intensidad (u.a.)",
            "labels": false,
            "ticks": false,
            "domain": false,
            "grid": false,
            "titleFont": "DejaVu Sans",
            "titleFontSize": 43,
            "titleFontWeight": "normal",
            "titleColor": "#1a1a1a",
            "titleAngle": -90,
            "titleAlign": "center",
            "titleBaseline": "middle",
            "titleX": -78,
            "titleY": 587
          }
        },
        "color": {
          "field": "muestra", "type": "nominal",
          "scale": {"domain": ["650 °C", "675 °C", "700 °C", "750 °C"], "range": ["#2a2a2a", "#e4625e", "#4b5cb0", "#2e9aa9"]},
          "legend": null
        }
      }
    },
    {
      "data": {"name": "picos"},
      "mark": {"type": "rule", "strokeDash": [4, 5], "strokeWidth": 2, "opacity": 0.7},
      "encoding": {
        "x": {"field": "theta", "type": "quantitative"},
        "y": {"field": "alto", "type": "quantitative"},
        "y2": {"datum": 0},
        "stroke": {
          "condition": [
            {"test": "datum.fase === 'BKT PDF#36-0339'", "value": "#8a9786"},
            {"test": "datum.fase === 'KBiO₂ PDF#27-1340'", "value": "#c9a07a"}
          ],
          "value": "#d4607a"
        }
      }
    },
    {
      "data": {"name": "picos"},
      "mark": {"type": "point", "filled": true, "size": 180, "opacity": 0.9},
      "encoding": {
        "x": {"field": "theta", "type": "quantitative"},
        "y": {"field": "alto", "type": "quantitative"},
        "fill": {
          "field": "fase", "type": "nominal",
          "scale": {"domain": ["BKT PDF#36-0339", "KBi₅Ti₄O₁₃ PDF#53-0761", "KBiO₂ PDF#27-1340"], "range": ["#7a8a76", "#d0425e", "#c2609a"]},
          "legend": {
            "title": null,
            "orient": "none",
            "legendX": 895,
            "legendY": 49,
            "padding": 24,
            "strokeColor": "#333333",
            "fillColor": "white",
            "labelFont": "DejaVu Sans",
            "labelFontSize": 30,
            "labelFontWeight": "bold",
            "labelColor": "#2a2a2a",
            "labelLimit": 700,
            "symbolSize": 80,
            "symbolOffset": 40,
            "labelOffset": 41,
            "rowPadding": 25
          }
        },
        "shape": {
          "field": "fase", "type": "nominal",
          "scale": {"domain": ["BKT PDF#36-0339", "KBi₅Ti₄O₁₃ PDF#53-0761", "KBiO₂ PDF#27-1340"], "range": ["circle", "triangle-down", "triangle-down"]},
          "legend": {
            "title": null,
            "orient": "none",
            "legendX": 895,
            "legendY": 49,
            "padding": 24,
            "strokeColor": "#333333",
            "fillColor": "white",
            "labelFont": "DejaVu Sans",
            "labelFontSize": 30,
            "labelFontWeight": "bold",
            "labelColor": "#2a2a2a",
            "labelLimit": 700,
            "symbolSize": 80,
            "symbolOffset": 40,
            "labelOffset": 41,
            "rowPadding": 25
          }
        }
      }
    },
    {
      "data": {"name": "etiquetas"},
      "mark": {"type": "rect", "fill": "#1c1c1c", "xOffset": 17, "x2Offset": 17, "yOffset": 15, "y2Offset": 15},
      "encoding": {
        "x": {"field": "theta_ini", "type": "quantitative"},
        "x2": {"field": "theta_fin"},
        "y": {"field": "int_min", "type": "quantitative"},
        "y2": {"field": "int_max"}
      }
    },
    {
      "data": {"name": "etiquetas"},
      "mark": {"type": "rect", "fill": "white", "stroke": "#333333", "strokeWidth": 2},
      "encoding": {
        "x": {"field": "theta_ini", "type": "quantitative"},
        "x2": {"field": "theta_fin"},
        "y": {"field": "int_min", "type": "quantitative"},
        "y2": {"field": "int_max"}
      }
    },
    {
      "data": {"name": "etiquetas"},
      "mark": {"type": "text", "font": "DejaVu Sans", "fontSize": 34, "color": "#555555", "align": "left", "baseline": "middle", "dx": 18, "dy": 35},
      "encoding": {
        "x": {"field": "theta_ini", "type": "quantitative"},
        "y": {"field": "int_max", "type": "quantitative"},
        "text": {"field": "muestra", "type": "nominal"}
      }
    }
  ]
}
